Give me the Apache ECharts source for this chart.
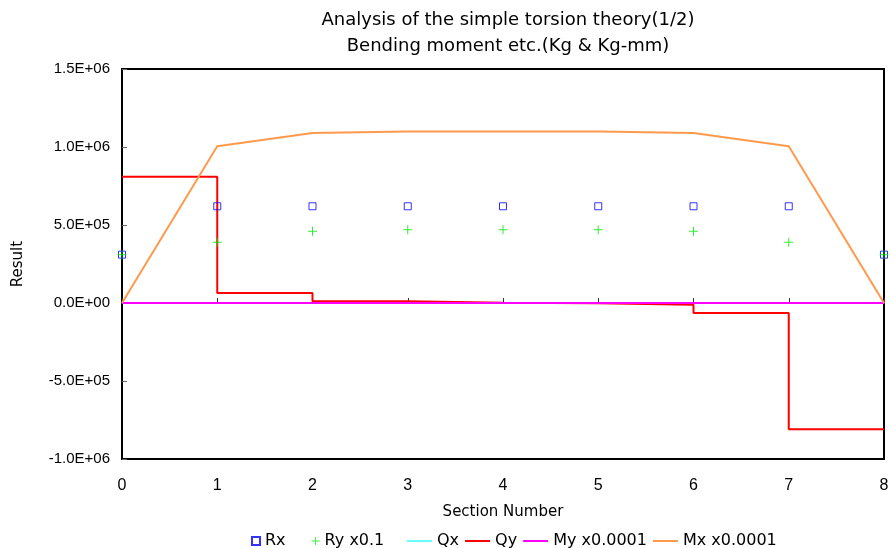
<!DOCTYPE html>
<html>
<head>
<meta charset="utf-8">
<script src="https://cdn.jsdelivr.net/npm/echarts@6/dist/echarts.min.js"></script>
<style>
  html, body { margin: 0; padding: 0; background: #fff; }
  #chart { width: 892px; height: 548px; }
</style>
</head>
<body>
<div id="chart"></div>
<script>
// Section numbers along the beam
const sections = [0, 1, 2, 3, 4, 5, 6, 7, 8];

// Reactions at each section
const rx = [3.1e5, 6.2e5, 6.2e5, 6.2e5, 6.2e5, 6.2e5, 6.2e5, 6.2e5, 3.1e5];
const ryScaled = [3.1e5, 3.9e5, 4.6e5, 4.7e5, 4.7e5, 4.7e5, 4.6e5, 3.9e5, 3.1e5];

// Shear forces (Qy is constant between consecutive sections)
const qx = [0, 0, 0, 0, 0, 0, 0, 0, 0];
const qySegments = [8.1e5, 6.4e4, 1.2e4, 1.0e3, -1.0e3, -1.2e4, -6.4e4, -8.1e5];

// Bending moments (scaled)
const myScaled = [0, 0, 0, 0, 0, 0, 0, 0, 0];
const mxScaled = [0, 1.005e6, 1.09e6, 1.1e6, 1.1e6, 1.1e6, 1.09e6, 1.005e6, 0];

// Axis range
const yMin = -1.0e6, yMax = 1.5e6, yStep = 5.0e5;

const FONT = 'Liberation Sans';
const WIDE = 'DejaVu Sans';

function sci(v) {
  if (v === 0) return '0.0E+00';
  const e = Math.floor(Math.log10(Math.abs(v)) + 1e-9);
  const m = v / Math.pow(10, e);
  const ea = String(Math.abs(e)).padStart(2, '0');
  return m.toFixed(1) + 'E' + (e < 0 ? '-' : '+') + ea;
}

const pairs = arr => sections.map((s, i) => [s, arr[i]]);
const qyPairs = sections.map((s, i) => [s, qySegments[Math.min(i, qySegments.length - 1)]]);

const plusPath = 'path://M4,0H5V4H9V5H5V9H4V5H0V4H4Z';

const chart = echarts.init(document.getElementById('chart'));
chart.setOption({
  animation: false,
  backgroundColor: '#fff',
  textStyle: { fontFamily: FONT },
  title: {
    text: 'Analysis of the simple torsion theory(1/2)\nBending moment etc.(Kg & Kg-mm)',
    left: 503,
    textAlign: 'center',
    top: 2,
    textStyle: { fontFamily: WIDE, fontSize: 18, fontWeight: 'normal', color: '#000', lineHeight: 26 }
  },
  grid: {
    left: 122, right: 8, top: 69, bottom: 89,
    show: true, borderColor: '#000', borderWidth: 2, backgroundColor: 'transparent'
  },
  legend: [
    {
      data: ['Rx', 'Ry x0.1'],
      left: 246, top: 528,
      itemWidth: 8, itemHeight: 8, itemGap: 26,
      textStyle: { fontFamily: WIDE, fontSize: 16, color: '#000' }
    },
    {
      data: ['Qx', 'Qy', 'My x0.0001', 'Mx x0.0001'].map(n => ({ name: n, icon: 'rect' })),
      left: 402, top: 528,
      itemWidth: 25, itemHeight: 2, itemGap: 6,
      textStyle: { fontFamily: WIDE, fontSize: 16, color: '#000' }
    }
  ],
  xAxis: [
    {
      type: 'value', min: 0, max: 8, interval: 1,
      name: 'Section Number', nameLocation: 'middle', nameGap: 46,
      nameTextStyle: { fontFamily: WIDE, fontSize: 15, color: '#000' },
      axisLine: { onZero: false, lineStyle: { color: '#000', width: 2 } },
      axisTick: { show: false },
      axisLabel: { margin: 19, fontFamily: FONT, fontSize: 16, color: '#000' },
      splitLine: { show: false }
    },
    {
      type: 'value', min: 0, max: 8, interval: 1, position: 'bottom',
      axisLine: { show: true, onZero: true, lineStyle: { color: '#888', width: 1 } },
      axisTick: { show: true, inside: true, length: 5, lineStyle: { color: '#333' } },
      axisLabel: { show: false },
      splitLine: { show: false }
    }
  ],
  yAxis: {
    type: 'value', min: yMin, max: yMax, interval: yStep,
    name: 'Result', nameLocation: 'middle', nameGap: 96, nameRotate: 90,
    nameTextStyle: { fontFamily: WIDE, fontSize: 15, color: '#000' },
    axisLine: { show: true, lineStyle: { color: '#000', width: 2 } },
    axisTick: { show: true, inside: true, length: 5, lineStyle: { color: '#666' } },
    axisLabel: { margin: 12, fontFamily: FONT, fontSize: 15, color: '#000', formatter: sci },
    splitLine: { show: false }
  },
  series: [
    {
      name: 'Rx', type: 'scatter', data: pairs(rx),
      symbol: 'rect', symbolSize: 7,
      itemStyle: { color: 'rgba(255,255,255,0)', borderColor: '#0000ff', borderWidth: 1 },
      z: 5
    },
    {
      name: 'Ry x0.1', type: 'scatter', data: pairs(ryScaled),
      symbol: plusPath, symbolSize: 9,
      itemStyle: { color: '#00e600' },
      z: 5
    },
    {
      name: 'Qx', type: 'line', data: pairs(qx),
      symbol: 'none', lineStyle: { color: '#66ffff', width: 2 },
      itemStyle: { color: '#66ffff' }
    },
    {
      name: 'Qy', type: 'line', data: qyPairs, step: 'end',
      symbol: 'none', lineStyle: { color: '#ff0000', width: 2 },
      itemStyle: { color: '#ff0000' }
    },
    {
      name: 'My x0.0001', type: 'line', data: pairs(myScaled),
      symbol: 'none', lineStyle: { color: '#ff00ff', width: 2 },
      itemStyle: { color: '#ff00ff' }
    },
    {
      name: 'Mx x0.0001', type: 'line', data: pairs(mxScaled),
      symbol: 'none', lineStyle: { color: '#ff9a4d', width: 2 },
      itemStyle: { color: '#ff9a4d' }
    }
  ]
});
</script>
</body>
</html>
